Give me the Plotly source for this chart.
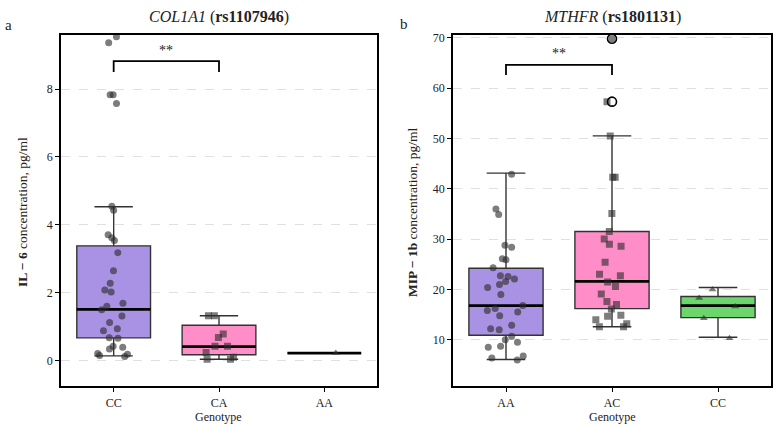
import plotly.graph_objects as go

# ---------------- data ----------------
il6_cats = ["CC", "CA", "AA"]
il6_q1 = [0.67, 0.17, 0.22]
il6_median = [1.51, 0.41, 0.22]
il6_q3 = [3.38, 1.04, 0.22]
il6_lowerfence = [0.14, 0.04, 0.22]
il6_upperfence = [4.53, 1.32, 0.22]
il6_CC = [9.54, 9.36, 7.83, 7.83, 7.57, 4.55, 4.43, 3.71, 3.62, 3.54, 3.18, 2.65,
          2.28, 2.08, 2.02, 1.69, 1.60, 1.50, 1.31, 1.12, 0.94, 0.88, 0.67, 0.66,
          0.42, 0.39, 0.34, 0.21, 0.19, 0.15, 0.12]
il6_CA = [1.32, 1.32, 0.78, 0.68, 0.42, 0.42, 0.24, 0.10, 0.04, 0.04]
il6_AA = [0.22]

mip_cats = ["AA", "AC", "CC"]
mip_q1 = [10.9, 16.2, 14.4]
mip_median = [16.8, 21.6, 16.8]
mip_q3 = [24.2, 31.5, 18.6]
mip_lowerfence = [6.1, 12.6, 10.5]
mip_upperfence = [43.1, 50.5, 20.4]
mip_AA = [42.9, 36.0, 34.9, 28.8, 28.4, 26.1, 25.9, 24.3, 22.7, 22.6, 22.1, 21.6,
          21.0, 20.4, 19.0, 16.8, 16.2, 15.8, 15.5, 14.8, 12.9, 12.2, 12.0, 10.7,
          10.0, 9.5, 8.7, 8.5, 6.8, 6.4, 6.0]
mip_AC = [69.8, 57.3, 50.5, 42.3, 42.3, 35.1, 31.5, 30.0, 29.0, 28.6, 25.4, 23.0,
          22.7, 21.5, 20.6, 19.1, 17.6, 17.0, 16.1, 14.9, 14.7, 14.0, 13.2, 12.6, 12.6]
mip_CC = [20.0, 18.3, 16.6, 14.3, 10.3]
mip_AC_fliers = [69.8, 57.3]

box_colors = ["#A991E3", "#FF8DC7", "#6CD66C"]
point_symbols = ["circle", "square", "triangle-up"]

FONT = "Liberation Serif"

fig = go.Figure()


def add_panel(cats, q1, med, q3, lo, hi, samples, xa, ya):
    for i, c in enumerate(cats):
        fig.add_trace(go.Box(
            x=[c], q1=[q1[i]], median=[med[i]], q3=[q3[i]],
            lowerfence=[lo[i]], upperfence=[hi[i]],
            fillcolor=box_colors[i], line=dict(color="#333333", width=1.4),
            width=0.7, whiskerwidth=0.52, boxpoints=False,
            xaxis=xa, yaxis=ya, showlegend=False, hoverinfo="skip"))
        # thick median line
        fig.add_trace(go.Box(
            x=[c], q1=[med[i]], median=[med[i]], q3=[med[i]],
            lowerfence=[med[i]], upperfence=[med[i]],
            fillcolor="rgba(0,0,0,0)", line=dict(color="black", width=2.6),
            width=0.7, whiskerwidth=0, boxpoints=False,
            xaxis=xa, yaxis=ya, showlegend=False, hoverinfo="skip"))
        # jittered points
        fig.add_trace(go.Box(
            x=[c] * len(samples[i]), y=samples[i], boxpoints="all",
            jitter=0.6, pointpos=0, width=0.7,
            fillcolor="rgba(0,0,0,0)", line=dict(color="rgba(0,0,0,0)", width=0),
            marker=dict(color="rgba(45,45,45,0.62)", size=7, symbol=point_symbols[i],
                        line=dict(width=0)),
            xaxis=xa, yaxis=ya, showlegend=False, hoverinfo="skip"))


add_panel(il6_cats, il6_q1, il6_median, il6_q3, il6_lowerfence, il6_upperfence,
          [il6_CC, il6_CA, il6_AA], "x", "y")
add_panel(mip_cats, mip_q1, mip_median, mip_q3, mip_lowerfence, mip_upperfence,
          [mip_AA, mip_AC, mip_CC], "x2", "y2")

# fliers (open circles) for MIP AC
fig.add_trace(go.Scatter(
    x=["AC"] * len(mip_AC_fliers), y=mip_AC_fliers, mode="markers",
    marker=dict(symbol="circle-open", size=9, color="black", line=dict(width=1.6)),
    xaxis="x2", yaxis="y2", showlegend=False, hoverinfo="skip"))

# significance brackets
il6_bracket_lo, il6_bracket_hi = 8.5, 8.82
mip_bracket_lo, mip_bracket_hi = 62.6, 64.6
fig.add_trace(go.Scatter(
    x=["CC", "CC", "CA", "CA"],
    y=[il6_bracket_lo, il6_bracket_hi, il6_bracket_hi, il6_bracket_lo],
    mode="lines", line=dict(color="black", width=1.8),
    xaxis="x", yaxis="y", showlegend=False, hoverinfo="skip"))
fig.add_trace(go.Scatter(
    x=["AA", "AA", "AC", "AC"],
    y=[mip_bracket_lo, mip_bracket_hi, mip_bracket_hi, mip_bracket_lo],
    mode="lines", line=dict(color="black", width=1.8),
    xaxis="x2", yaxis="y2", showlegend=False, hoverinfo="skip"))

ydom = [41 / 427, 396 / 427]
axis_common = dict(showline=True, mirror=True, linecolor="black", linewidth=1.5,
                   ticks="outside", ticklen=4, tickcolor="black",
                   tickfont=dict(family=FONT, size=12, color="#222"))

fig.update_layout(
    width=783, height=427,
    margin=dict(l=0, r=0, t=0, b=0),
    paper_bgcolor="white", plot_bgcolor="white",
    boxmode="overlay",
    font=dict(family=FONT, color="#222"),
    xaxis=dict(domain=[61 / 783, 377 / 783], type="category",
               categoryorder="array", categoryarray=il6_cats,
               range=[-0.5, 2.5], showgrid=False, ticklabelstandoff=0, **axis_common),
    yaxis=dict(domain=ydom, range=[-0.76, 9.6], tickvals=[0, 2, 4, 6, 8],
               showgrid=True, gridcolor="#e0e0e0", griddash="dash", gridwidth=0.8,
               zeroline=False, **axis_common),
    xaxis2=dict(domain=[453 / 783, 771 / 783], type="category", anchor="y2",
                categoryorder="array", categoryarray=mip_cats,
                range=[-0.5, 2.5], showgrid=False, ticklabelstandoff=0, **axis_common),
    yaxis2=dict(domain=ydom, range=[0.75, 70.6], anchor="x2",
                tickvals=[10, 20, 30, 40, 50, 60, 70],
                showgrid=True, gridcolor="#e0e0e0", griddash="dash", gridwidth=0.8,
                zeroline=False, **axis_common),
)

ann = []
def A(text, x, y, size, xref="paper", yref="paper", angle=0, xanchor="center", yanchor="middle"):
    ann.append(dict(text=text, x=x, y=y, xref=xref, yref=yref, showarrow=False,
                    textangle=angle, xanchor=xanchor, yanchor=yanchor,
                    font=dict(family=FONT, size=size, color="#222")))

A("<i>COL1A1</i> (<b>rs1107946</b>)", 219 / 783, 1 - 13 / 427, 16)
A("<i>MTHFR</i> (<b>rs1801131</b>)", 612 / 783, 1 - 13 / 427, 16)
A("a", 8 / 783, 1 - 21 / 427, 15)
A("b", 404 / 783, 1 - 20 / 427, 15)
A("Genotype", 219 / 783, 1 - 417 / 427, 12)
A("Genotype", 612 / 783, 1 - 417 / 427, 12)
A("<b>IL − 6</b> concentration, pg/ml", 22 / 783, 1 - 210 / 427, 13.5, angle=-90)
A("<b>MIP − 1b</b> concentration, pg/ml", 412 / 783, 1 - 210 / 427, 13.5, angle=-90)
A("**", 0.5, 9.14, 14, xref="x", yref="y")
A("**", 0.5, 66.9, 14, xref="x2", yref="y2")
fig.update_layout(annotations=ann)

fig.write_html("out.html")
